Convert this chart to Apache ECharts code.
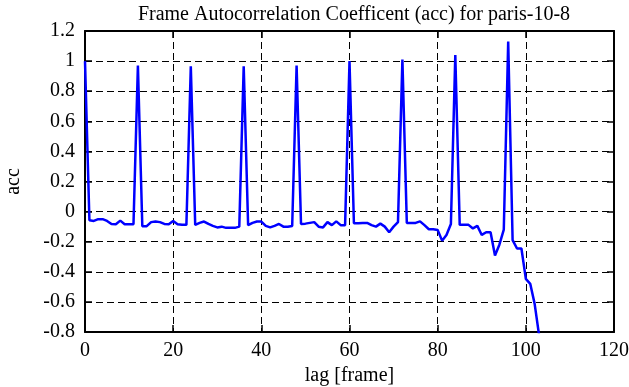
<!DOCTYPE html>
<html>
<head>
<meta charset="utf-8">
<script src="https://cdn.jsdelivr.net/npm/echarts@6/dist/echarts.min.js"></script>
<style>
html,body{margin:0;padding:0;background:#fff;}
#chart{width:629px;height:387px;}
</style>
</head>
<body>
<div id="chart"></div>
<script>
// lag values (frames) are the index into accValues
const accValues = [
  1.0, -0.058, -0.062, -0.05, -0.05, -0.062, -0.082, -0.084, -0.06, -0.084,
  -0.084, -0.084, 0.97, -0.097, -0.097, -0.07, -0.066, -0.07, -0.082, -0.084,
  -0.062, -0.084, -0.088, -0.088, 0.965, -0.088, -0.075, -0.066, -0.082, -0.095,
  -0.105, -0.1, -0.108, -0.108, -0.108, -0.1, 0.965, -0.09, -0.075, -0.066,
  -0.066, -0.095, -0.105, -0.095, -0.082, -0.1, -0.1, -0.095, 0.97, -0.082,
  -0.08, -0.075, -0.07, -0.1, -0.105, -0.07, -0.09, -0.065, -0.09, -0.09,
  1.0, -0.078, -0.078, -0.075, -0.075, -0.09, -0.1, -0.08, -0.1, -0.137,
  -0.1, -0.07, 1.01, -0.075, -0.075, -0.075, -0.065, -0.09, -0.117, -0.117,
  -0.122, -0.193, -0.155, -0.082, 1.04, -0.088, -0.088, -0.088, -0.112, -0.095,
  -0.155, -0.137, -0.137, -0.292, -0.22, -0.12, 1.13, -0.19, -0.245, -0.245,
  -0.447, -0.48, -0.613, -0.82
];
const titleText = 'Frame Autocorrelation Coefficent (acc) for paris-10-8';
const xName = 'lag [frame]';
const yName = 'acc';
const xRange = [0, 120, 20];
const yRange = [-0.8, 1.2, 0.2];

const seriesData = accValues.map((v, i) => [i, v]);
const font = 'Liberation Serif';
const black = '#000';

const chart = echarts.init(document.getElementById('chart'), null, {renderer: 'canvas'});
const baseAxis = {
  axisLine: {show: true, onZero: false, lineStyle: {color: black, width: 2}},
  axisTick: {show: true, inside: true, length: 7, lineStyle: {color: black, width: 1.5}},
};
chart.setOption({
  animation: false,
  backgroundColor: '#fff',
  title: {
    text: titleText, left: 349, top: 0, textAlign: 'center',
    textStyle: {fontFamily: font, fontSize: 20, fontWeight: 'normal', color: black}
  },
  grid: {left: 85, right: 15, top: 31, bottom: 55, containLabel: false, outerBoundsMode: 'none'},
  xAxis: [
    Object.assign({}, baseAxis, {
      type: 'value', position: 'bottom', min: xRange[0], max: xRange[1], interval: xRange[2],
      name: xName, nameLocation: 'middle', nameGap: 33,
      nameTextStyle: {fontFamily: font, fontSize: 20, color: black},
      axisLabel: {fontFamily: font, fontSize: 20, color: black, margin: 9},
      splitLine: {show: true, lineStyle: {color: black, width: 1, type: [7, 4]}}
    }),
    Object.assign({}, baseAxis, {
      type: 'value', position: 'top', min: xRange[0], max: xRange[1], interval: xRange[2],
      axisLabel: {show: false}, splitLine: {show: false}
    })
  ],
  yAxis: [
    Object.assign({}, baseAxis, {
      type: 'value', position: 'left', min: yRange[0], max: yRange[1], interval: yRange[2],
      name: yName, nameLocation: 'middle', nameGap: 61, nameRotate: 90,
      nameTextStyle: {fontFamily: font, fontSize: 20, color: black},
      axisLabel: {fontFamily: font, fontSize: 20, color: black, margin: 10,
        formatter: v => String(Math.round(v * 10) / 10)},
      splitLine: {show: true, lineStyle: {color: black, width: 1, type: [7, 4]}}
    }),
    Object.assign({}, baseAxis, {
      type: 'value', position: 'right', min: yRange[0], max: yRange[1], interval: yRange[2],
      axisLabel: {show: false}, splitLine: {show: false}
    })
  ],
  series: [{
    type: 'line', data: seriesData, xAxisIndex: 0, yAxisIndex: 0,
    showSymbol: false, clip: true,
    lineStyle: {color: '#0000ff', width: 2.5},
    z: 5
  }]
});
</script>
</body>
</html>
